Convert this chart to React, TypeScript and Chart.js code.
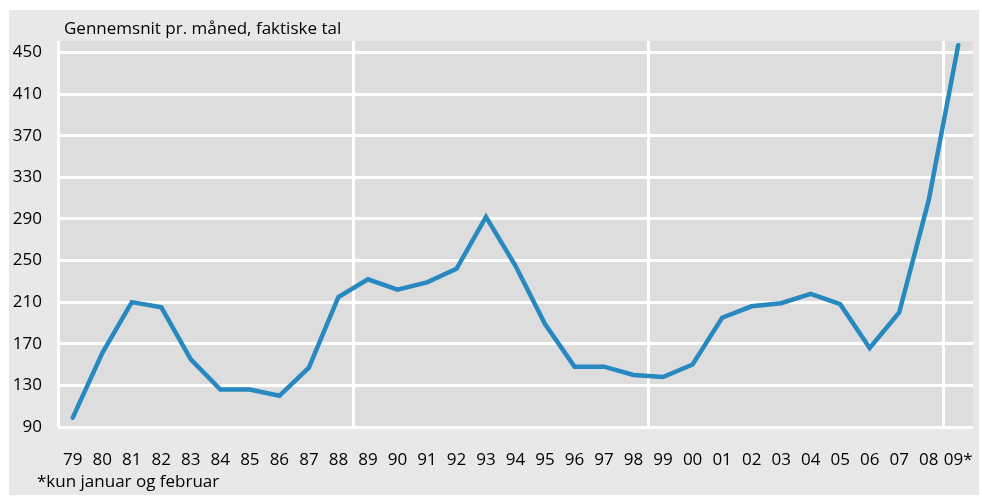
import { useEffect, useRef } from 'react';
import { Chart, registerables } from 'chart.js';

Chart.register(...registerables);

const years = ['79','80','81','82','83','84','85','86','87','88','89','90','91','92','93','94','95','96','97','98','99','00','01','02','03','04','05','06','07','08','09*'];
const values = [99,161,210,205,155,126,126,120,147,215,232,222,229,242,292,245,189,148,148,140,138,150,195,206,209,218,208,166,200,308,457];
const yTicks = [90,130,170,210,250,290,330,370,410,450];
const separatorIndices = [0, 10, 20, 30];
const titleText = 'Gennemsnit pr. måned, faktiske tal';
const footnoteText = '*kun januar og februar';

const FONT = '"Open Sans", sans-serif';

const decorPlugin = {
  id: 'decor',
  beforeDraw(chart: any) {
    const { ctx, chartArea: a } = chart;
    ctx.save();
    ctx.fillStyle = '#dddddd';
    ctx.fillRect(a.left, a.top, a.right - a.left, a.bottom - a.top);
    ctx.restore();
  },
  afterDraw(chart: any) {
    const { ctx, chartArea: a } = chart;
    ctx.save();
    ctx.fillStyle = '#000000';
    ctx.font = `17px ${FONT}`;
    ctx.textBaseline = 'middle';
    ctx.textAlign = 'left';
    ctx.fillText(titleText, a.left + 6, a.top - 12);
    ctx.fillText(footnoteText, a.left - 21, a.bottom + 55);
    ctx.restore();
  },
};

export default function App() {
  const ref = useRef<HTMLCanvasElement | null>(null);
  useEffect(() => {
    if (!ref.current) return;
    const chart = new Chart(ref.current, {
      type: 'line',
      data: {
        labels: years,
        datasets: [
          {
            data: values,
            borderColor: '#2888c0',
            borderWidth: 4.5,
            borderCapStyle: 'round',
            borderJoinStyle: 'miter',
            pointRadius: 0,
            tension: 0,
            fill: false,
          },
        ],
      },
      options: {
        responsive: false,
        animation: false,
        layout: { padding: { top: 31, right: 6, bottom: 0, left: 0 } },
        plugins: {
          legend: { display: false },
          tooltip: { enabled: false },
          title: { display: false },
        },
        scales: {
          x: {
            type: 'category',
            offset: true,
            border: { display: false },
            grid: {
              offset: true,
              drawTicks: false,
              lineWidth: 3,
              color: (c: any) => (separatorIndices.includes(c.index) ? '#ffffff' : 'rgba(0,0,0,0)'),
            },
            ticks: {
              autoSkip: false,
              maxRotation: 0,
              minRotation: 0,
              padding: 23,
              color: '#000000',
              font: { family: FONT, size: 17 },
            },
            afterFit: (s: any) => {
              s.height = 68;
              s.paddingLeft = 0;
              s.paddingRight = 0;
            },
          },
          y: {
            type: 'linear',
            min: 90,
            max: 461,
            border: { display: false },
            grid: { color: '#ffffff', lineWidth: 3, drawTicks: false },
            ticks: {
              padding: 16,
              color: '#000000',
              font: { family: FONT, size: 17 },
            },
            afterBuildTicks: (s: any) => {
              s.ticks = yTicks.map((v) => ({ value: v }));
            },
            afterFit: (s: any) => {
              s.width = 49;
              s.paddingTop = 0;
              s.paddingBottom = 0;
            },
          },
        },
      },
      plugins: [decorPlugin],
    });
    return () => chart.destroy();
  }, []);
  return (
    <div style={{ position: 'absolute', left: 9, top: 10, width: 970, height: 485, background: '#e8e8e8' }}>
      <canvas ref={ref} width={970} height={485} style={{ display: 'block', width: 970, height: 485 }} />
    </div>
  );
}
